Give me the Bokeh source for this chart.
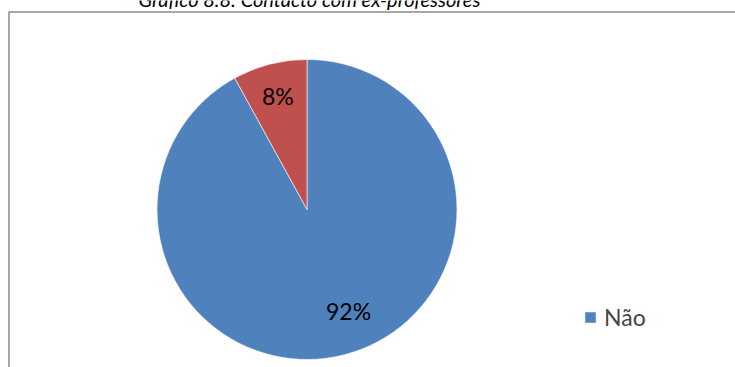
import math
from bokeh.plotting import figure
from bokeh.models import Range1d, ColumnDataSource, Legend, LegendItem
from bokeh.core.properties import value
from bokeh.embed import file_html
from bokeh.resources import INLINE

# ---- data ----
categories = ["Não", "Sim"]
percent = [92, 8]
labels = ["92%", "8%"]
colors = ["#4F81BD", "#C0504D"]
title_text = "Gráfico 8.8: Contacto com ex-professores"

# ---- layout / style ----
W, H = 735, 367
FONT = "Lato"
label_radius = [0.73, 0.78]
label_angle_shift_deg = [7.9, 0.0]

p = figure(width=W, height=H, output_backend="svg", toolbar_location=None,
           x_range=Range1d(0, W), y_range=Range1d(0, H),
           min_border=0, outline_line_color=None,
           styles={"margin": "0px"})
p.axis.visible = False
p.grid.visible = False

cx, cy, R = 306.5, H - 209, 150

# wedges: clockwise from 12 o'clock
total = sum(percent)
starts, ends, mids = [], [], []
cum = 0
for v in percent:
    a0 = math.pi / 2 - 2 * math.pi * cum / total
    cum += v
    a1 = math.pi / 2 - 2 * math.pi * cum / total
    starts.append(a1)
    ends.append(a0)
    mids.append((a0 + a1) / 2)

src = ColumnDataSource(dict(cat=categories, start=starts, end=ends, color=colors, label=labels))
r = p.wedge(x=cx, y=cy, radius=R, radius_units="screen", start_angle="start", end_angle="end",
            fill_color="color", line_color="white", line_width=0.6, source=src)

# data labels
ang = [m + math.radians(s) for m, s in zip(mids, label_angle_shift_deg)]
lx = [cx + f * R * math.cos(a) for f, a in zip(label_radius, ang)]
ly = [cy + f * R * math.sin(a) for f, a in zip(label_radius, ang)]
p.text(x=lx, y=ly, text=labels, text_align="center", text_baseline="middle",
       text_font=value(FONT), text_font_size="23px", text_color="#000000")

# border of chart area
p.line(x=[8.5, 8.5, W + 5], y=[-5, H - 11.5, H - 11.5], line_color="#8a8a8a", line_width=1.5)

# title (partly cut off at top, as in the reference)
p.text(x=[309], y=[H + 2], text=[title_text], text_align="center", text_baseline="alphabetic",
       text_font=value(FONT), text_font_style="italic", text_font_size="20px", text_color="#000000")

legend = Legend(items=[LegendItem(label="Não", renderers=[r], index=0)],
                location=(583, 36), padding=0, margin=0, spacing=0,
                glyph_width=14, glyph_height=14, label_height=14, label_standoff=7,
                label_text_font=FONT, label_text_font_size="23px",
                border_line_alpha=0, background_fill_alpha=0)
p.add_layout(legend, "center")

open("out.html", "w").write(file_html(p, INLINE))
